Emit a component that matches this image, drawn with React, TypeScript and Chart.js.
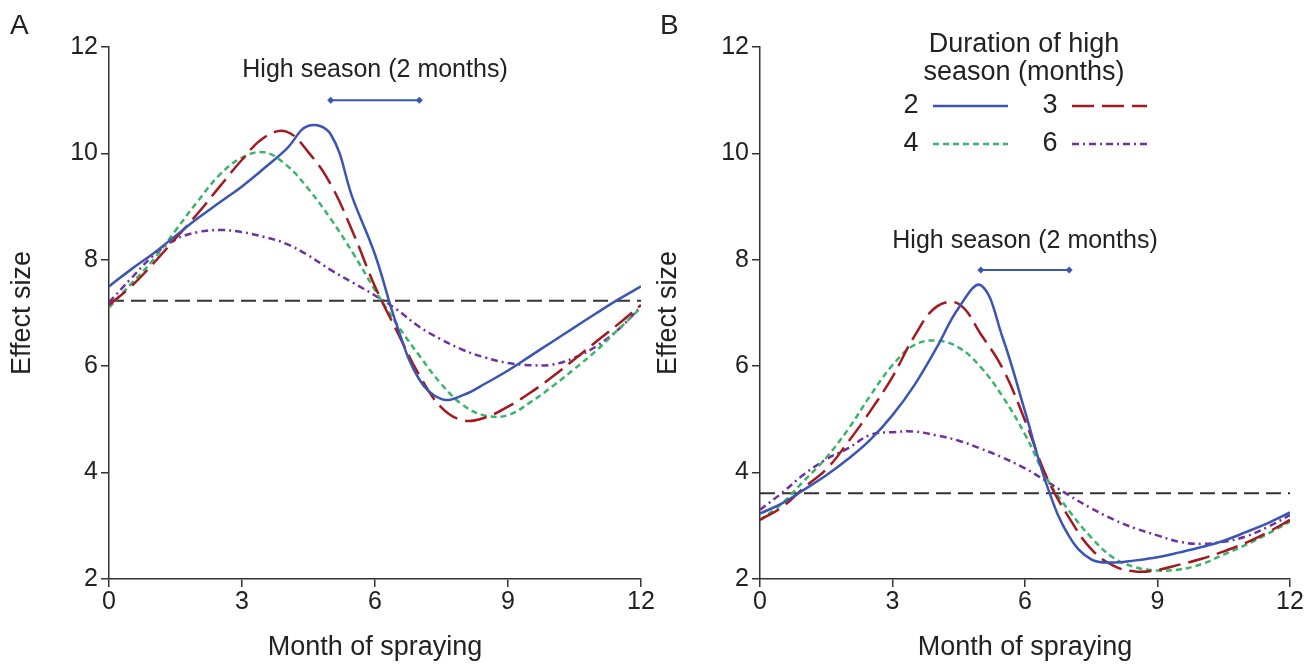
import React, { useEffect, useRef } from "react";
import { Chart, registerables } from "chart.js";

Chart.register(...registerables);

const FONT = "'Liberation Sans', Arial, Helvetica, sans-serif";
const INK = "#222222";

// Month of spraying (x categories)
const months = [0, 0.5, 1, 1.5, 2, 2.5, 3, 3.5, 4, 4.5, 5, 5.5, 6, 6.5, 7, 7.5, 8, 8.5, 9, 9.5, 10, 10.5, 11, 11.5, 12];

// Panel A: effect size by duration of high season (months)
const panelA_dur2 = [7.5, 7.82, 8.12, 8.45, 8.78, 9.08, 9.38, 9.72, 10.08, 10.52, 10.36, 9.15, 8.1, 6.75, 5.75, 5.38, 5.46, 5.68, 5.92, 6.19, 6.46, 6.73, 7.0, 7.26, 7.5];
const panelA_dur3 = [7.15, 7.5, 7.93, 8.4, 8.87, 9.38, 9.88, 10.3, 10.41, 10.02, 9.42, 8.52, 7.5, 6.65, 5.83, 5.22, 4.98, 5.04, 5.24, 5.5, 5.8, 6.13, 6.47, 6.8, 7.15];
const panelA_dur4 = [7.1, 7.55, 8.0, 8.55, 9.1, 9.6, 9.92, 10.02, 9.78, 9.33, 8.77, 8.13, 7.43, 6.78, 6.2, 5.66, 5.26, 5.07, 5.08, 5.32, 5.62, 5.95, 6.3, 6.7, 7.1];
const panelA_dur6 = [7.2, 7.65, 8.08, 8.38, 8.52, 8.56, 8.52, 8.43, 8.3, 8.08, 7.81, 7.57, 7.33, 7.06, 6.74, 6.5, 6.3, 6.16, 6.06, 6.02, 6.03, 6.16, 6.38, 6.7, 7.12];
const panelA_baseline = 7.23;

// Panel B
const panelB_dur2 = [3.23, 3.42, 3.68, 3.95, 4.26, 4.62, 5.08, 5.65, 6.35, 7.1, 7.52, 6.52, 5.15, 3.75, 2.8, 2.37, 2.31, 2.35, 2.41, 2.5, 2.6, 2.72, 2.88, 3.05, 3.25];
const panelB_dur3 = [3.11, 3.35, 3.72, 4.06, 4.58, 5.16, 5.8, 6.57, 7.12, 7.17, 6.6, 5.95, 4.98, 3.9, 3.15, 2.56, 2.25, 2.14, 2.17, 2.27, 2.38, 2.52, 2.68, 2.88, 3.11];
const panelB_dur4 = [3.11, 3.42, 3.85, 4.28, 4.82, 5.45, 6.02, 6.4, 6.48, 6.35, 5.98, 5.42, 4.72, 3.88, 3.28, 2.78, 2.4, 2.22, 2.16, 2.18, 2.28, 2.46, 2.64, 2.85, 3.08];
const panelB_dur6 = [3.3, 3.62, 3.97, 4.25, 4.46, 4.71, 4.76, 4.77, 4.7, 4.6, 4.45, 4.28, 4.08, 3.83, 3.57, 3.33, 3.12, 2.95, 2.82, 2.7, 2.66, 2.7, 2.8, 2.98, 3.2];
const panelB_baseline = 3.61;

// High season marker (months) and its levels
const seasonMonths = [5, 7];
const seasonLabel = "High season (2 months)";
const panelA_seasonLevel = 11.0;
const panelA_seasonTextLevel = 11.56;
const panelB_seasonLevel = 7.81;
const panelB_seasonTextLevel = 8.35;

// Axes
const xTicks = [0, 3, 6, 9, 12];
const yTicks = [2, 4, 6, 8, 10, 12];
const durationLabels = ["2", "3", "4", "6"];
const legendTitle = ["Duration of high", "season (months)"];

const COLORS = ["#3a55b4", "#a3191f", "#3cb36b", "#7030a0"];
const DASHES: number[][] = [[], [22, 8], [6, 4], [7, 4, 2, 4]];

function seriesDatasets(series: number[][], baseline: number, seasonLevel: number) {
  const ds: any[] = series.map((vals, i) => ({
    label: durationLabels[i],
    data: months.map((m, j) => ({ x: m, y: vals[j] })),
    borderColor: COLORS[i],
    borderWidth: 2.5,
    borderDash: DASHES[i],
    pointRadius: 0,
    tension: 0.4,
    fill: false,
  }));
  ds.push({
    label: "baseline",
    data: [{ x: xTicks[0], y: baseline }, { x: xTicks[xTicks.length - 1], y: baseline }],
    borderColor: "#333333",
    borderWidth: 2,
    borderDash: [15, 7],
    pointRadius: 0,
    fill: false,
  });
  ds.push({
    label: "season",
    data: seasonMonths.map((m) => ({ x: m, y: seasonLevel })),
    borderColor: COLORS[0],
    borderWidth: 2,
    pointStyle: "rectRot",
    pointRadius: 3.5,
    pointBackgroundColor: COLORS[0],
    pointBorderColor: COLORS[0],
    pointBorderWidth: 0,
    fill: false,
  });
  return ds;
}

type PanelCfg = {
  letter: string;
  letterX: number;
  textLevel: number;
  legend: boolean;
  yTitlePad: number;
  yWidth: number;
  padRight: number;
};

function overlayPlugin(cfg: PanelCfg) {
  return {
    id: "overlay" + cfg.letter,
    afterDraw(chart: any) {
      const { ctx } = chart;
      const x = chart.scales.x;
      const y = chart.scales.y;
      ctx.save();
      ctx.fillStyle = INK;
      ctx.textBaseline = "middle";
      ctx.font = `28px ${FONT}`;
      ctx.textAlign = "left";
      ctx.fillText(cfg.letter, cfg.letterX, 26);

      ctx.font = `25px ${FONT}`;
      ctx.textAlign = "center";
      const cx = x.getPixelForValue((seasonMonths[0] + seasonMonths[1]) / 2);
      ctx.fillText(seasonLabel, cx, y.getPixelForValue(cfg.textLevel));

      if (cfg.legend) {
        ctx.font = `27px ${FONT}`;
        ctx.textAlign = "center";
        ctx.fillText(legendTitle[0], 372, 45);
        ctx.fillText(legendTitle[1], 372, 73);
        const rows = [
          { i: 0, lx: 259, x0: 281, x1: 356, yy: 106 },
          { i: 1, lx: 398, x0: 420, x1: 495, yy: 106 },
          { i: 2, lx: 259, x0: 281, x1: 356, yy: 144 },
          { i: 3, lx: 398, x0: 420, x1: 495, yy: 144 },
        ];
        rows.forEach((r) => {
          ctx.fillStyle = INK;
          ctx.font = `27px ${FONT}`;
          ctx.textAlign = "center";
          ctx.fillText(durationLabels[r.i], r.lx, r.yy);
          ctx.beginPath();
          ctx.strokeStyle = COLORS[r.i];
          ctx.lineWidth = 2.5;
          ctx.setLineDash(DASHES[r.i]);
          ctx.moveTo(r.x0, r.yy);
          ctx.lineTo(r.x1, r.yy);
          ctx.stroke();
        });
        ctx.setLineDash([]);
      }
      ctx.restore();
    },
  };
}

function makeChart(canvas: HTMLCanvasElement, series: number[][], baseline: number, seasonLevel: number, cfg: PanelCfg) {
  return new Chart(canvas, {
    type: "line",
    data: { datasets: seriesDatasets(series, baseline, seasonLevel) },
    options: {
      animation: false,
      responsive: false,
      devicePixelRatio: 1,
      layout: { padding: { top: 47, left: 0, right: cfg.padRight, bottom: 0 } },
      plugins: { legend: { display: false }, tooltip: { enabled: false } },
      scales: {
        x: {
          type: "linear",
          min: 0,
          max: 12,
          afterBuildTicks: (s: any) => {
            s.ticks = xTicks.map((v) => ({ value: v }));
          },
          afterFit: (s: any) => {
            s.height = 85;
            s.paddingLeft = 0;
            s.paddingRight = 0;
          },
          ticks: { color: INK, font: { family: FONT, size: 25 }, padding: 0, maxRotation: 0, autoSkip: false },
          grid: { display: true, drawOnChartArea: false, drawTicks: true, tickLength: 8, color: "#333", lineWidth: 1.5 },
          border: { display: true, color: "#333", width: 1.5 },
          title: { display: true, text: "Month of spraying", color: INK, font: { family: FONT, size: 27 }, padding: { top: 0, bottom: 0 } },
        },
        y: {
          type: "linear",
          min: 2,
          max: 12,
          afterBuildTicks: (s: any) => {
            s.ticks = yTicks.map((v) => ({ value: v }));
          },
          afterFit: (s: any) => {
            s.width = cfg.yWidth;
            s.paddingTop = 0;
            s.paddingBottom = 0;
          },
          ticks: { color: INK, font: { family: FONT, size: 25 }, padding: 3, autoSkip: false },
          grid: { display: true, drawOnChartArea: false, drawTicks: true, tickLength: 8, color: "#333", lineWidth: 1.5 },
          border: { display: true, color: "#333", width: 1.5 },
          title: { display: true, text: "Effect size", color: INK, font: { family: FONT, size: 27 }, padding: { top: cfg.yTitlePad, bottom: 0 } },
        },
      },
    },
    plugins: [overlayPlugin(cfg)],
  } as any);
}

export default function App() {
  const refA = useRef<HTMLCanvasElement>(null);
  const refB = useRef<HTMLCanvasElement>(null);

  useEffect(() => {
    const a = makeChart(refA.current!, [panelA_dur2, panelA_dur3, panelA_dur4, panelA_dur6], panelA_baseline, panelA_seasonLevel, {
      letter: "A", letterX: 10, textLevel: panelA_seasonTextLevel, legend: false, yTitlePad: 6, yWidth: 109, padRight: 24,
    });
    const b = makeChart(refB.current!, [panelB_dur2, panelB_dur3, panelB_dur4, panelB_dur6], panelB_baseline, panelB_seasonLevel, {
      letter: "B", letterX: 8, textLevel: panelB_seasonTextLevel, legend: true, yTitlePad: 0, yWidth: 108, padRight: 15,
    });
    return () => {
      a.destroy();
      b.destroy();
    };
  }, []);

  return (
    <div style={{ position: "absolute", left: 0, top: 0, width: 1305, height: 664, background: "#fff", overflow: "hidden" }}>
      <canvas ref={refA} width={665} height={664} style={{ position: "absolute", left: 0, top: 0 }} />
      <canvas ref={refB} width={653} height={664} style={{ position: "absolute", left: 652, top: 0 }} />
    </div>
  );
}
